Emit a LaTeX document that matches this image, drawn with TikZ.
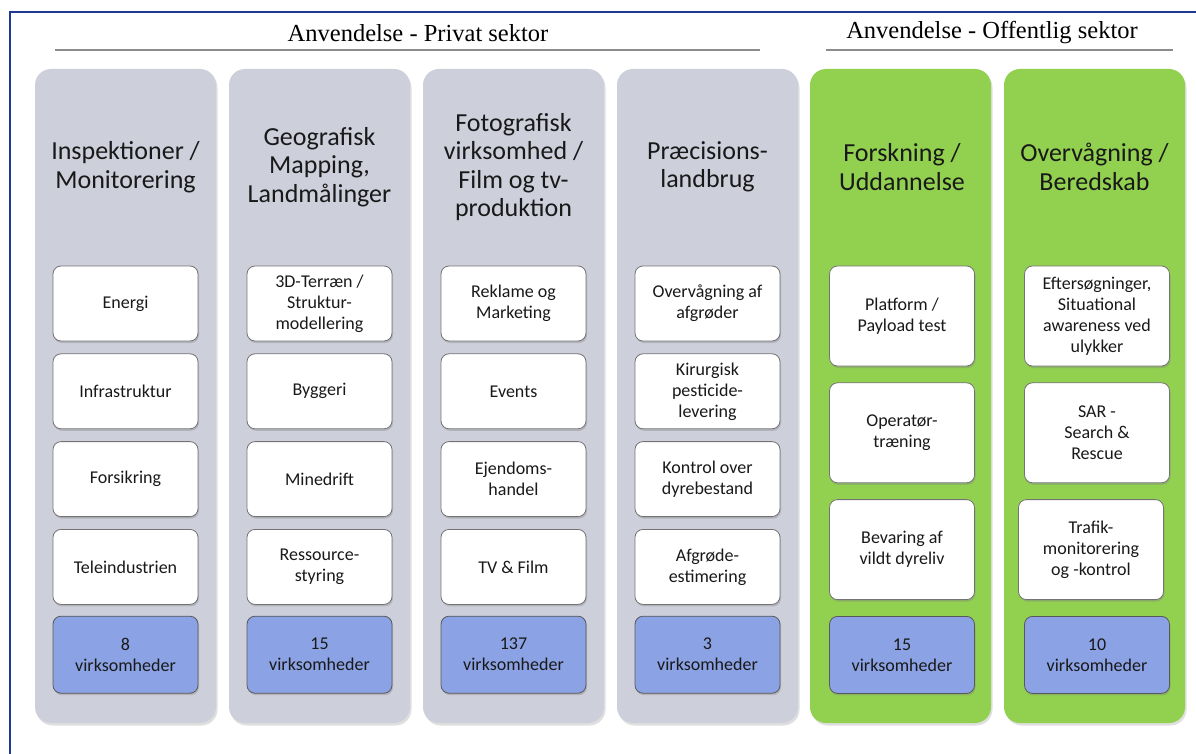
\documentclass[tikz,border=0pt]{standalone}
\usepackage{fontspec}
\setmainfont{Carlito}
\newfontfamily\headfont{Liberation Serif}
\usetikzlibrary{positioning,shapes,shadows}

\definecolor{colgray}{RGB}{205,207,219}
\definecolor{colgreen}{RGB}{146,208,80}
\definecolor{countblue}{RGB}{139,162,228}
\definecolor{frameblue}{RGB}{31,56,145}
\definecolor{rulegray}{RGB}{140,140,140}

\tikzset{
  column/.style={rounded corners=16pt, minimum width=181pt, minimum height=654pt, inner sep=0pt,
    drop shadow={opacity=0.25, shadow xshift=1.5pt, shadow yshift=-2.5pt}},
  privcol/.style={column, fill=colgray},
  pubcol/.style={column, fill=colgreen},
  coltitle/.style={align=center, text=black!90, font=\fontsize{26}{28.5}\selectfont},
  item/.style={draw=black!55, line width=0.8pt, fill=white, rounded corners=8pt, minimum width=145pt,
    minimum height=75pt, inner sep=0pt, align=center, text=black!90, font=\fontsize{18}{21}\selectfont,
    drop shadow={opacity=0.35, shadow xshift=1pt, shadow yshift=-2pt}},
  tallitem/.style={item, minimum height=100pt},
  countbox/.style={item, fill=countblue, draw=black!65, minimum height=77pt},
  header/.style={text=black, font=\headfont\fontsize{24.5}{28}\selectfont},
  rule/.style={draw=rulegray, line width=1.5pt},
  frame/.style={draw=frameblue, line width=2pt}
}

\begin{document}
\begin{tikzpicture}[x=1pt, y=-1pt, node distance=12pt]
\useasboundingbox (0,0) rectangle (1196,754);
\draw[frame] (9.5,754) -- (9.5,12) -- (1196,12);

% headers
\node[header] (hdrPriv) at (418,33) {Anvendelse - Privat sektor};
\node[header] (hdrOff) at (992,33) {Anvendelse - Offentlig sektor};
\draw[rule] (55,50) -- (760,50);
\draw[rule] (826,50) -- (1173,50);

% columns
\node[privcol] (colInsp) at (125.5,396) {};
\node[privcol] (colGeo) at (319.5,396) {};
\node[privcol] (colFoto) at (513.5,396) {};
\node[privcol] (colLand) at (707.5,396) {};
\node[pubcol] (colForsk) at (900.5,396) {};
\node[pubcol] (colBered) at (1094.5,396) {};

\node[coltitle] (titInsp) at (125.5,167) {Inspektioner /\\Monitorering};
\node[coltitle] (titGeo) at (319.5,167) {Geografisk\\Mapping,\\Landmålinger};
\node[coltitle] (titFoto) at (513.5,167) {Fotografisk\\virksomhed /\\Film og tv-\\produktion};
\node[coltitle] (titLand) at (707.5,167) {Præcisions-\\landbrug};
\node[coltitle] (titForsk) at (902,167) {Forskning /\\Uddannelse};
\node[coltitle] (titBered) at (1094.5,167) {Overvågning /\\Beredskab};

% inspektioner
\node[item] (insp1) at (125.5,303.5) {Energi};
\node[item, below=of insp1] (insp2) {Infrastruktur};
\node[item, below=of insp2] (insp3) {Forsikring};
\node[item, below=of insp3] (insp4) {Teleindustrien};
\node[countbox, below=11pt of insp4] (inspN) {8\\virksomheder};

% geografisk
\node[item] (geo1) at (319.5,303.5) {3D-Terræn /\\Struktur-\\modellering};
\node[item, below=of geo1] (geo2) {Byggeri};
\node[item, below=of geo2] (geo3) {Minedrift};
\node[item, below=of geo3] (geo4) {Ressource-\\styring};
\node[countbox, below=11pt of geo4] (geoN) {15\\virksomheder};

% fotografisk
\node[item] (foto1) at (513.5,303.5) {Reklame og\\Marketing};
\node[item, below=of foto1] (foto2) {Events};
\node[item, below=of foto2] (foto3) {Ejendoms-\\handel};
\node[item, below=of foto3] (foto4) {TV \& Film};
\node[countbox, below=11pt of foto4] (fotoN) {137\\virksomheder};

% landbrug
\node[item] (land1) at (707.5,303.5) {Overvågning af\\afgrøder};
\node[item, below=of land1] (land2) {Kirurgisk\\pesticide-\\levering};
\node[item, below=of land2] (land3) {Kontrol over\\dyrebestand};
\node[item, below=of land3] (land4) {Afgrøde-\\estimering};
\node[countbox, below=11pt of land4] (landN) {3\\virksomheder};

% forskning
\node[tallitem] (forsk1) at (902,316) {Platform /\\Payload test};
\node[tallitem, below=16pt of forsk1] (forsk2) {Operatør-\\træning};
\node[tallitem, below=16pt of forsk2] (forsk3) {Bevaring af\\vildt dyreliv};
\node[countbox, below=16pt of forsk3] (forskN) {15\\virksomheder};

% beredskab
\node[tallitem] (bered1) at (1097,316) {Eftersøgninger,\\Situational\\awareness ved\\ulykker};
\node[tallitem, below=16pt of bered1] (bered2) {SAR -\\Search \&\\Rescue};
\node[tallitem, below=16pt of bered2, xshift=-6pt] (bered3) {Trafik-\\monitorering\\og -kontrol};
\node[countbox, below=16pt of bered3, xshift=6pt] (beredN) {10\\virksomheder};
\end{tikzpicture}
\end{document}
